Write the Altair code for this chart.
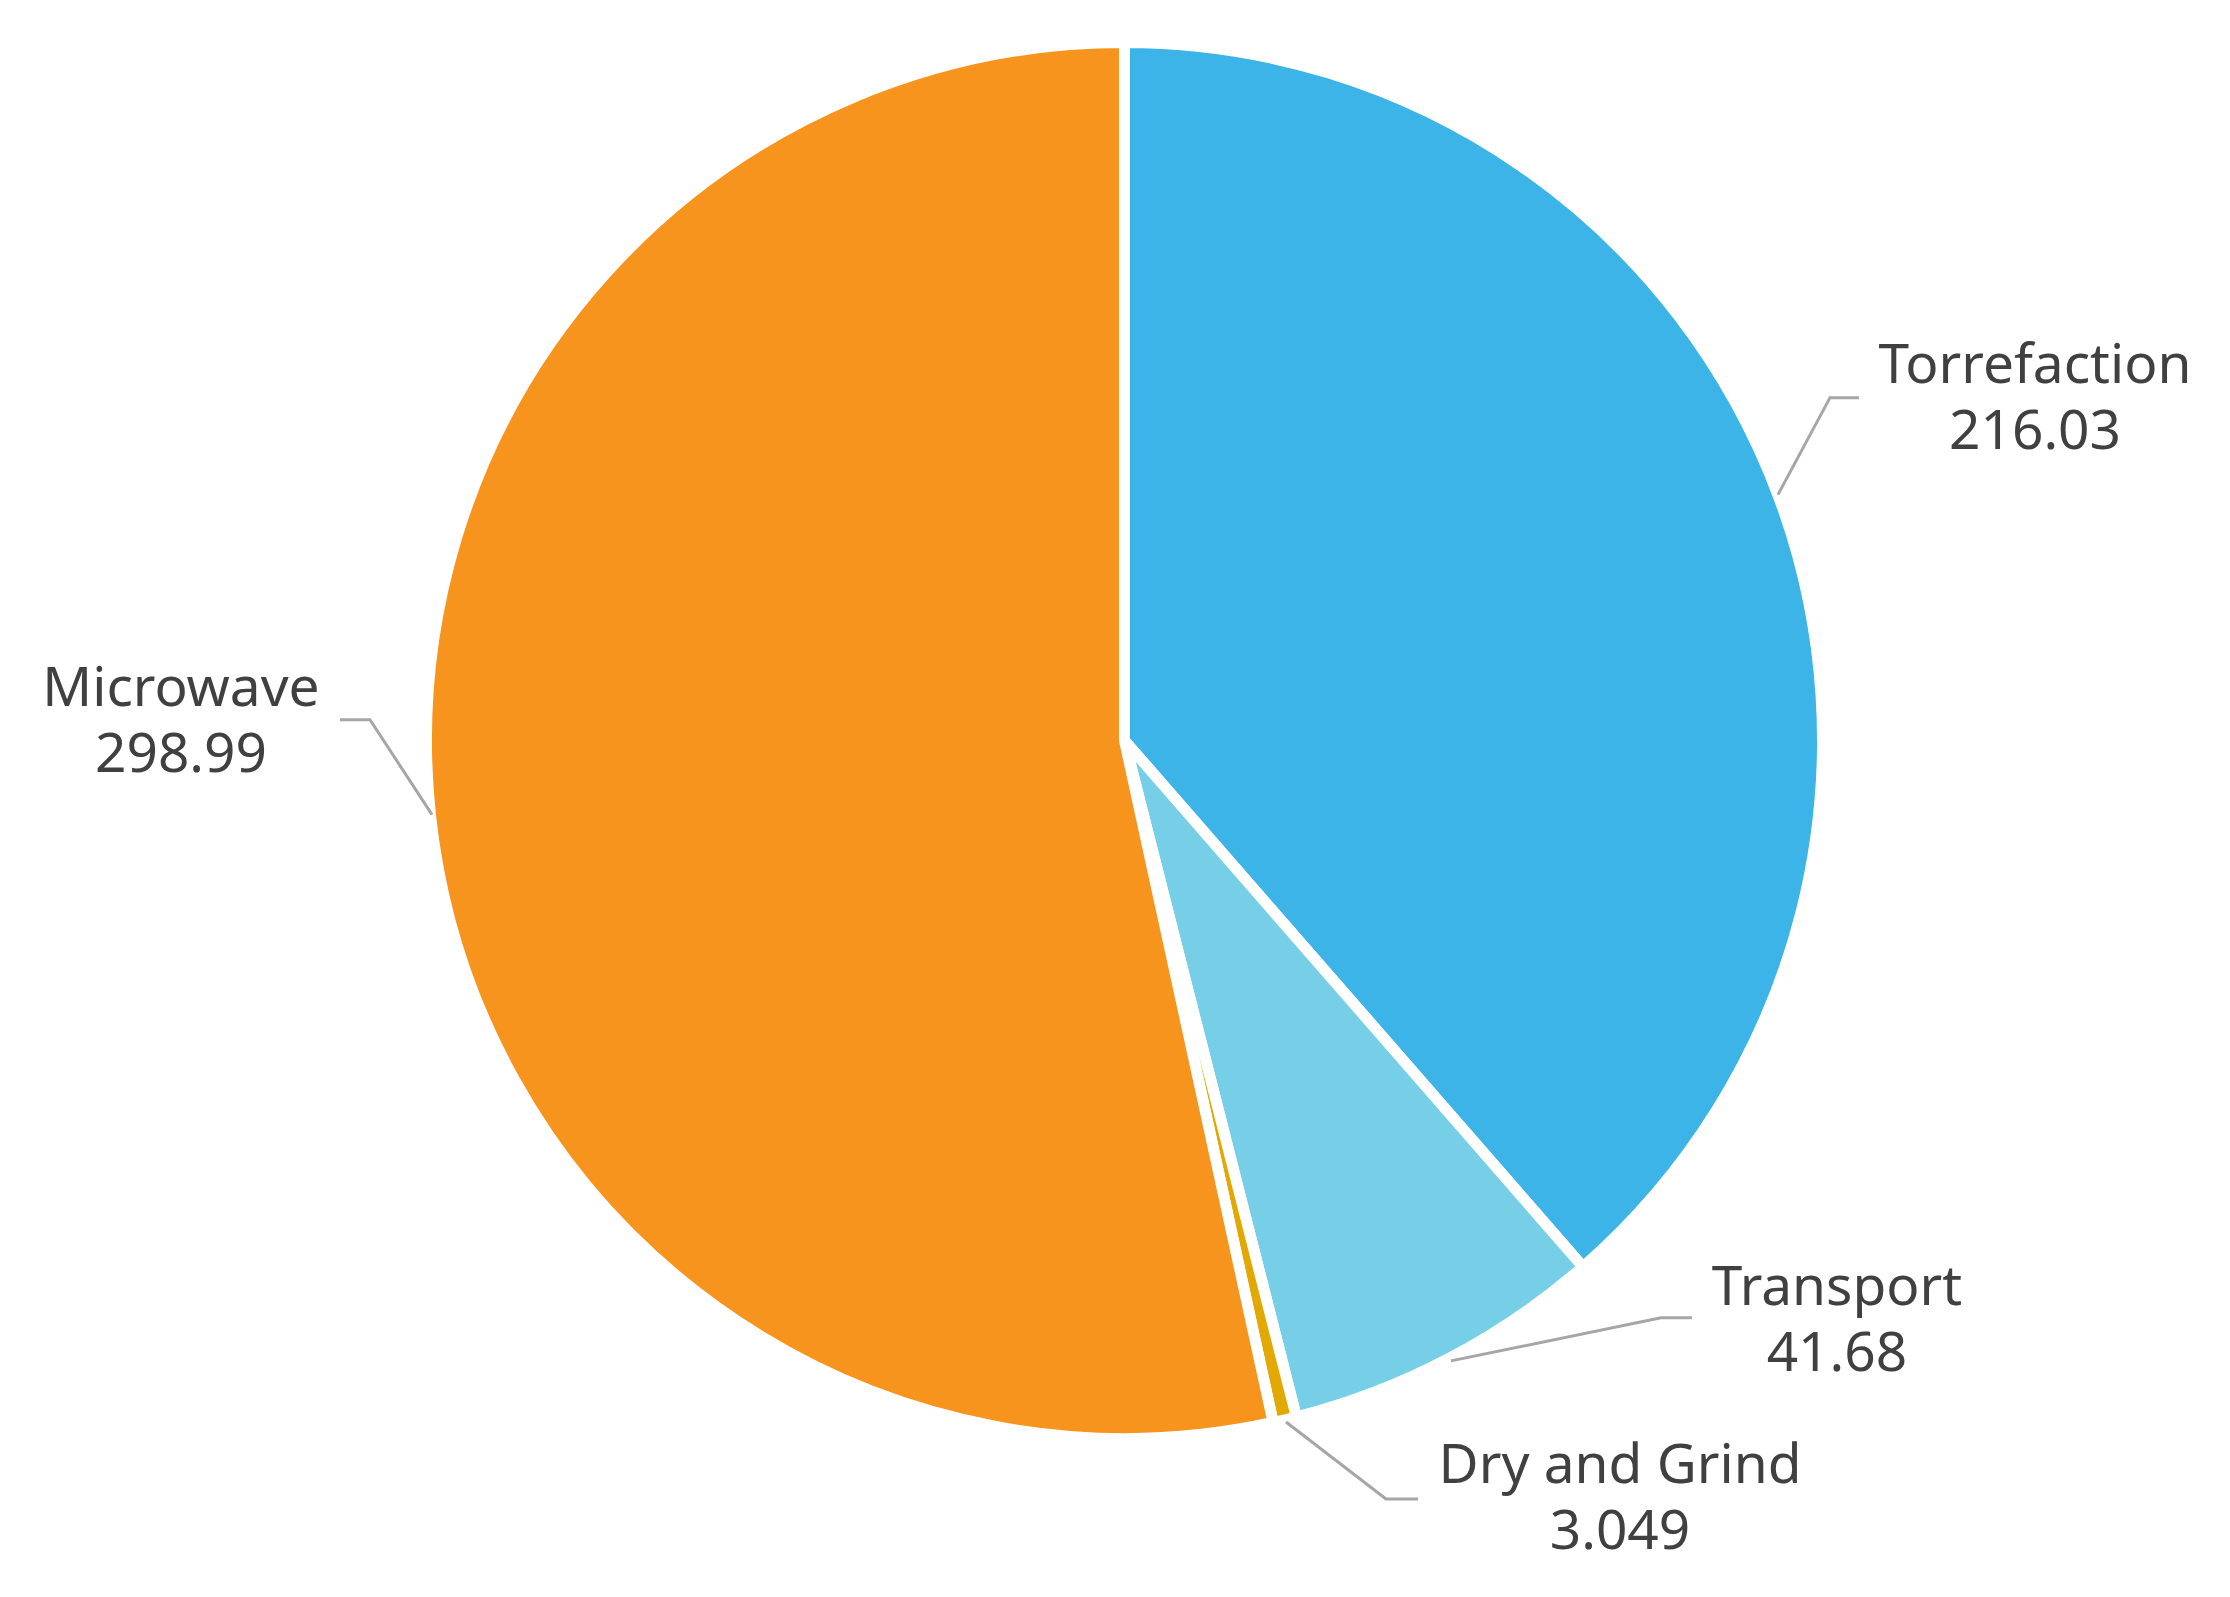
import altair as alt
import pandas as pd

# ---- data ----
categories = ["Torrefaction", "Transport", "Dry and Grind", "Microwave"]
values = [216.03, 41.68, 3.049, 298.99]
value_labels = ["216.03", "41.68", "3.049", "298.99"]
colors = ["#3CB4E7", "#76CFE6", "#E2A904", "#F7941D"]

# ---- layout (pixels, chart coordinates) ----
CX, CY, R = 1116.5, 732.5, 692.5
STROKE = 11
# leader-line points relative to the slice's mid-angle point on the rim
leader_offsets = {
    "Torrefaction": [(5, -3), (57, -100), (86, -100)],
    "Transport": [(5, 7), (215, -36), (246, -36)],
    "Dry and Grind": [(2.5, 7.5), (102.5, 84.5), (134.5, 84.5)],
    "Microwave": [(-4, 0), (-66, -95), (-96, -95)],
}
# label (centre, first baseline) relative to the rim point
label_offsets = {
    "Torrefaction": (262, -115),
    "Transport": (391, -49),
    "Dry and Grind": (336.5, 68.5),
    "Microwave": (-255, -109),
}

df = pd.DataFrame({
    "category": categories,
    "value": values,
    "idx": list(range(len(categories))),
    "label": [f"{c}\n{v}" for c, v in zip(categories, value_labels)],
    "tx": [label_offsets[c][0] for c in categories],
    "ty": [label_offsets[c][1] for c in categories],
})

rows = []
for i, (c, v) in enumerate(zip(categories, values)):
    for p, (ox, oy) in enumerate(leader_offsets[c]):
        rows.append({"category": c, "value": v, "idx": i, "pt": p, "ox": ox, "oy": oy})
ldf = pd.DataFrame(rows)

color_scale = alt.Scale(domain=categories, range=colors)

pie = alt.Chart(df).mark_arc(
    outerRadius=R + STROKE / 2, stroke="white", strokeWidth=STROKE, strokeJoin="round"
).encode(
    theta=alt.Theta("value:Q", stack=True),
    color=alt.Color("category:N", scale=color_scale, legend=None),
    order=alt.Order("idx:Q"),
    x=alt.value(CX),
    y=alt.value(CY),
)

def polar(ch):
    return ch.transform_joinaggregate(
        total="sum(value)", groupby=["gk"]
    ).transform_window(
        cum="sum(value)", sort=[alt.SortField("idx")], frame=[None, 0], groupby=["gk"]
    ).transform_calculate(
        mid="(datum.cum - datum.value / 2) / datum.total * 2 * PI",
        rx=f"{CX} + {R} * sin(datum.mid)",
        ry=f"{CY} - {R} * cos(datum.mid)",
    )

leaders = polar(
    alt.Chart(ldf).transform_calculate(gk="datum.pt")
).transform_calculate(
    px="datum.rx + datum.ox", py="datum.ry + datum.oy"
).mark_line(color="#A6A6A6", strokeWidth=3).encode(
    x=alt.X("px:Q", scale=None, axis=None),
    y=alt.Y("py:Q", scale=None, axis=None),
    detail="category:N",
    order=alt.Order("pt:Q"),
)

labels = polar(
    alt.Chart(df).transform_calculate(gk="0")
).transform_calculate(
    lx="datum.rx + datum.tx", ly="datum.ry + datum.ty"
).mark_text(
    font="Noto Sans", fontSize=55, color="#404040", align="center",
    baseline="alphabetic", lineBreak="\n", lineHeight=66,
).encode(
    x=alt.X("lx:Q", scale=None, axis=None),
    y=alt.Y("ly:Q", scale=None, axis=None),
    text="label:N",
)

chart = alt.layer(pie, leaders, labels).properties(
    width=2210, height=1575, padding=0, autosize="none", background="white"
).configure_view(stroke=None)

chart.save("out.html", embed_options={"renderer": "svg", "actions": False})
